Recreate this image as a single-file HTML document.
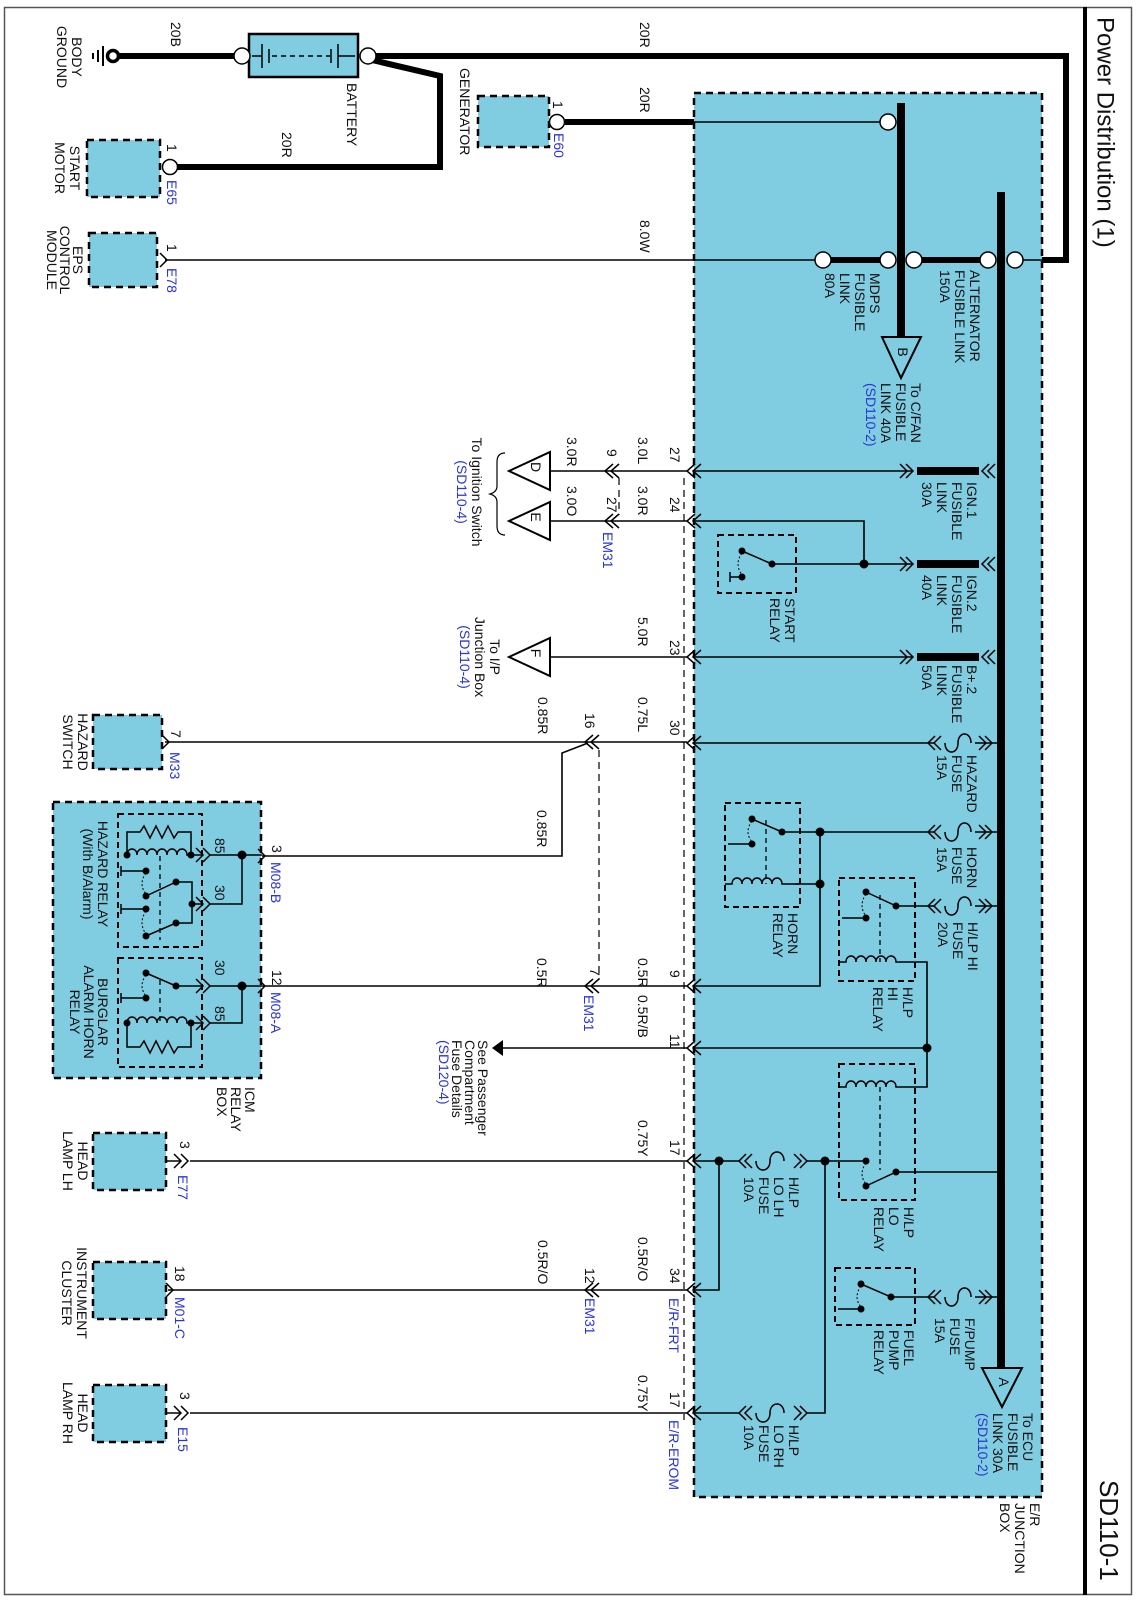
<!DOCTYPE html>
<html><head><meta charset="utf-8"><style>
html,body{margin:0;padding:0;background:#fff}
svg{display:block}
text{font-family:"Liberation Sans",Arial,sans-serif;font-size:14px;fill:#111;dominant-baseline:central}
.b{fill:#2b35d0}
.m{text-anchor:middle}
</style></head><body>
<svg width="1139" height="1600" viewBox="0 0 1139 1600" xmlns="http://www.w3.org/2000/svg">
<rect x="4.5" y="7.5" width="1127" height="1587" fill="none" stroke="#555" stroke-width="1.5"/>
<line x1="1085" y1="7" x2="1085" y2="1595" stroke="#000" stroke-width="4"/>
<text transform="translate(1105,17) rotate(90)" style="font-size:24px">Power Distribution (1)</text>
<text transform="translate(1109,1480) rotate(90)" style="font-size:26px">SD110-1</text>

<rect x="694" y="93" width="348" height="1404" fill="#80cde2" stroke="#000" stroke-width="2.5" stroke-dasharray="7,5"/>
<rect x="53" y="802" width="208" height="276" fill="#80cde2" stroke="#000" stroke-width="2.5" stroke-dasharray="7,5"/>
<g fill="#80cde2" stroke="#000" stroke-width="2.5" stroke-dasharray="7,5">
<rect x="87" y="140" width="73" height="57"/>
<rect x="478" y="96" width="71" height="51"/>
<rect x="89" y="233" width="68" height="54"/>
<rect x="93" y="715" width="69" height="54"/>
<rect x="93" y="1133" width="73" height="57"/>
<rect x="93" y="1262" width="73" height="57"/>
<rect x="93" y="1385" width="73" height="57"/>
</g>
<rect x="249" y="34" width="109" height="43" fill="#80cde2" stroke="#000" stroke-width="2.5"/>
<g stroke="#000" stroke-width="1.5" fill="none">
<line x1="262" y1="44" x2="262" y2="68"/><line x1="269" y1="49" x2="269" y2="63"/>
<line x1="338" y1="44" x2="338" y2="68"/><line x1="331" y1="49" x2="331" y2="63"/>
<line x1="252" y1="56" x2="262" y2="56"/><line x1="338" y1="56" x2="355" y2="56"/>
<line x1="272" y1="56" x2="330" y2="56" stroke-dasharray="5,4"/>
</g>

<g stroke="#000" stroke-width="6" fill="none" stroke-linejoin="miter">
<line x1="118" y1="56" x2="235" y2="56"/>
<polyline points="375,56 1066,56 1066,260 1042,260"/>
<polyline points="372,60 440,76 440,167 177,167"/>
<line x1="565" y1="122" x2="694" y2="122"/>
<line x1="823" y1="260" x2="888" y2="260"/>
<line x1="914" y1="260" x2="988" y2="260"/>
</g>
<g stroke="#000" stroke-width="8" fill="none">
<line x1="901" y1="103" x2="901" y2="337"/>
<line x1="1001" y1="192" x2="1001" y2="1368"/>
<line x1="917" y1="471" x2="979" y2="471"/>
<line x1="917" y1="564" x2="979" y2="564"/>
<line x1="917" y1="657" x2="979" y2="657"/>
</g>
<circle cx="113" cy="56" r="5.5" fill="#fff" stroke="#000" stroke-width="3.5"/>
<g stroke="#000" stroke-width="2"><line x1="103" y1="46" x2="103" y2="66"/><line x1="98" y1="50" x2="98" y2="62"/><line x1="93" y1="53" x2="93" y2="59"/></g>

<g stroke="#000" stroke-width="1.6" fill="none">
<line x1="694" y1="122" x2="880" y2="122"/>
<line x1="165" y1="260" x2="815" y2="260"/>
<line x1="1015" y1="260" x2="1042" y2="260"/>
<line x1="694" y1="471" x2="912" y2="471"/>
<polyline points="694,521 864,521 864,564"/>
<line x1="772" y1="564" x2="912" y2="564"/>
<line x1="694" y1="657" x2="912" y2="657"/>
<line x1="694" y1="743" x2="935" y2="743"/>
<line x1="975" y1="743" x2="1001" y2="743"/>
<line x1="782" y1="832" x2="935" y2="832"/>
<line x1="975" y1="832" x2="1001" y2="832"/>
<polyline points="795,884 820,884"/>
<polyline points="820,832 820,986 694,986"/>
<line x1="896" y1="906" x2="935" y2="906"/>
<line x1="975" y1="906" x2="1001" y2="906"/>
<polyline points="915,962 927,962 927,1087 915,1087"/>
<line x1="694" y1="1048" x2="927" y2="1048"/>
<line x1="896" y1="1172" x2="1001" y2="1172"/>
<polyline points="866,1161 825,1161 825,1413 806,1413"/>
<line x1="825" y1="1161" x2="806" y2="1161"/>
<line x1="740" y1="1161" x2="694" y2="1161"/>
<polyline points="719,1161 719,1290 694,1290"/>
<line x1="740" y1="1413" x2="694" y2="1413"/>
<line x1="891" y1="1297" x2="935" y2="1297"/>
<line x1="975" y1="1297" x2="1001" y2="1297"/>
<line x1="550" y1="471" x2="687" y2="471"/>
<line x1="550" y1="521" x2="687" y2="521"/>
<line x1="550" y1="657" x2="687" y2="657"/>
<line x1="165" y1="742" x2="687" y2="742"/>
<polyline points="588,743 562,753 562,856 262,856"/>
<line x1="262" y1="986" x2="687" y2="986"/>
<line x1="500" y1="1048" x2="687" y2="1048"/>
<line x1="190" y1="1161" x2="687" y2="1161"/>
<line x1="168" y1="1290" x2="687" y2="1290"/>
<line x1="190" y1="1413" x2="687" y2="1413"/>
</g>
<g stroke="#000" stroke-width="1.2" stroke-dasharray="7,5" fill="none">
<line x1="684" y1="478" x2="684" y2="1420"/>
<line x1="619" y1="478" x2="619" y2="515"/>
<line x1="599" y1="750" x2="599" y2="980"/>
</g>
<g fill="#fff" stroke="#000" stroke-width="1.5">
<circle cx="242" cy="56" r="8"/><circle cx="368" cy="56" r="8"/>
<circle cx="170" cy="167" r="7.5"/><circle cx="557" cy="122" r="7.5"/>
<circle cx="888" cy="122" r="8"/>
<circle cx="823" cy="260" r="8"/><circle cx="888" cy="260" r="8"/><circle cx="914" cy="260" r="8"/><circle cx="988" cy="260" r="8"/><circle cx="1015" cy="260" r="8"/>
</g>
<g fill="#80cde2" stroke="#000" stroke-width="2">
<polygon points="882,337 921,337 901,378"/>
<polygon points="982,1368 1022,1368 1002,1407"/>
</g>
<g fill="#fff" stroke="#000" stroke-width="2">
<polygon points="550,452 550,490 509,471"/>
<polygon points="550,502 550,540 509,521"/>
<polygon points="550,638 550,676 509,657"/>
</g>
<polygon points="503,1040 503,1056 492,1048" fill="#000"/>
<text class="m" transform="translate(903,352) rotate(90)">B</text>
<text class="m" transform="translate(1004,1382) rotate(90)">A</text>
<text class="m" transform="translate(536,467) rotate(90)">D</text>
<text class="m" transform="translate(536,517) rotate(90)">E</text>
<text class="m" transform="translate(536,653) rotate(90)">F</text>

<g stroke="#000" stroke-width="1.5" fill="none">
<path d="M701,464L693,471L701,478M695,464L687,471L695,478"/>
<path d="M701,514L693,521L701,528M695,514L687,521L695,528"/>
<path d="M701,650L693,657L701,664M695,650L687,657L695,664"/>
<path d="M701,736L693,743L701,750M695,736L687,743L695,750"/>
<path d="M701,979L693,986L701,993M695,979L687,986L695,993"/>
<path d="M701,1041L693,1048L701,1055M695,1041L687,1048L695,1055"/>
<path d="M701,1154L693,1161L701,1168M695,1154L687,1161L695,1168"/>
<path d="M701,1283L693,1290L701,1297M695,1283L687,1290L695,1297"/>
<path d="M701,1406L693,1413L701,1420M695,1406L687,1413L695,1420"/>
<path d="M619,464L611,471L619,478M613,464L605,471L613,478"/>
<path d="M619,514L611,521L619,528M613,514L605,521L613,528"/>
<path d="M599,735L591,742L599,749M593,735L585,742L593,749"/>
<path d="M599,979L591,986L599,993M593,979L585,986L593,993"/>
<path d="M599,1283L591,1290L599,1297M593,1283L585,1290L593,1297"/>
<path d="M900,464L907,471L900,478M906,464L913,471L906,478"/>
<path d="M900,557L907,564L900,571M906,557L913,564L906,571"/>
<path d="M900,650L907,657L900,664M906,650L913,657L906,664"/>
<path d="M989,464L982,471L989,478M995,464L988,471L995,478"/>
<path d="M989,557L982,564L989,571M995,557L988,564L995,571"/>
<path d="M989,650L982,657L989,664M995,650L988,657L995,664"/>
<path d="M935,736L928,743L935,750M941,736L934,743L941,750M985,736L992,743L985,750M979,736L986,743L979,750"/>
<path d="M935,825L928,832L935,839M941,825L934,832L941,839M985,825L992,832L985,839M979,825L986,832L979,839"/>
<path d="M935,899L928,906L935,913M941,899L934,906L941,913M985,899L992,906L985,913M979,899L986,906L979,913"/>
<path d="M935,1290L928,1297L935,1304M941,1290L934,1297L941,1304M985,1290L992,1297L985,1304M979,1290L986,1297L979,1304"/>
<path d="M945,743C945,755 958,755 958,743C958,731 971,731 971,743"/>
<path d="M945,832C945,844 958,844 958,832C958,820 971,820 971,832"/>
<path d="M945,906C945,918 958,918 958,906C958,894 971,894 971,906"/>
<path d="M945,1297C945,1309 958,1309 958,1297C958,1285 971,1285 971,1297"/>
<path d="M746,1154L739,1161L746,1168M752,1154L745,1161L752,1168M800,1154L807,1161L800,1168M794,1154L801,1161L794,1168"/>
<path d="M756,1161C756,1173 770,1173 770,1161C770,1149 784,1149 784,1161"/>
<path d="M746,1406L739,1413L746,1420M752,1406L745,1413L752,1420M800,1406L807,1413L800,1420M794,1406L801,1413L794,1420"/>
<path d="M756,1413C756,1425 770,1425 770,1413C770,1401 784,1401 784,1413"/>
<path d="M160,253L167,260L160,267"/>
<path d="M162,735L169,742L162,749"/>
<path d="M174,1154L181,1161L174,1168M181,1154L188,1161L181,1168"/>
<path d="M166,1283L173,1290L166,1297"/>
<path d="M174,1406L181,1413L174,1420M181,1406L188,1413L181,1420"/>
<path d="M258,849L265,856L258,863M258,979L265,986L258,993"/>
<path d="M196,848L203,855L196,862M203,848L210,855L203,862"/>
<path d="M196,897L203,904L196,911M203,897L210,904L203,911"/>
<path d="M196,979L203,986L196,993M203,979L210,986L203,993"/>
<path d="M196,1016L203,1023L196,1030M203,1016L210,1023L203,1030"/>
<line x1="166" y1="1161" x2="181" y2="1161"/><line x1="166" y1="1413" x2="181" y2="1413"/>
</g>

<g fill="none" stroke="#000" stroke-width="2" stroke-dasharray="6,4">
<rect x="718" y="535" width="78" height="58"/>
<rect x="725" y="803" width="75" height="104"/>
<rect x="839" y="878" width="76" height="103"/>
<rect x="839" y="1064" width="76" height="136"/>
<rect x="835" y="1268" width="80" height="57"/>
<rect x="118" y="814" width="84" height="133"/>
<rect x="118" y="958" width="84" height="109"/>
</g>
<g fill="none" stroke="#000" stroke-width="1.3" stroke-dasharray="5,4">
<line x1="766" y1="820" x2="766" y2="884"/>
<line x1="880" y1="895" x2="880" y2="962"/>
<line x1="880" y1="1087" x2="880" y2="1170"/>
<line x1="160" y1="856" x2="160" y2="940"/>
<line x1="160" y1="980" x2="160" y2="1023"/>
</g>
<g fill="none" stroke="#000" stroke-width="1.5">
<path d="M772,564L742,551M730,577L742,577M730,572L730,582"/>
<path d="M782,832L752,819M728,844L752,844"/>
<path d="M725,884L732,884C732,876 742,876 742,884C742,876 752,876 752,884C752,876 762,876 762,884C762,876 772,876 772,884C772,876 782,876 782,884L800,884"/>
<path d="M896,906L866,892M842,918L866,918"/>
<path d="M839,962L846,962C846,954 856,954 856,962C856,954 866,954 866,962C866,954 876,954 876,962C876,954 886,954 886,962C886,954 896,954 896,962L915,962"/>
<path d="M839,1087L846,1087C846,1079 856,1079 856,1087C856,1079 866,1079 866,1087C866,1079 876,1079 876,1087C876,1079 886,1079 886,1087C886,1079 896,1079 896,1087L915,1087"/>
<path d="M896,1172L866,1186"/>
<path d="M891,1297L861,1284M838,1309L861,1309"/>
<path d="M127,855L127,832L140,832L144,826L150,838L156,826L162,838L168,826L174,838L178,832L191,832L191,855"/>
<path d="M127,855C127,847 137,847 137,855C137,847 147,847 147,855C147,847 157,847 157,855C157,847 167,847 167,855C167,847 177,847 177,855C177,847 187,847 187,855L191,855"/>
<path d="M191,855L203,855M210,855L262,855"/>
<path d="M121,871L146,871M121,866L121,876M121,909L146,909M121,904L121,914"/>
<path d="M176,882L146,896M176,923L146,936M176,882L192,882L192,923L176,923M192,904L203,904M210,904L242,904L242,855"/>
<path d="M176,986L146,973M121,998L146,998M121,993L121,1003M176,986L203,986M210,986L262,986"/>
<path d="M127,1023C127,1015 137,1015 137,1023C137,1015 147,1015 147,1023C147,1015 157,1015 157,1023C157,1015 167,1015 167,1023C167,1015 177,1015 177,1023C177,1015 187,1015 187,1023L191,1023"/>
<path d="M127,1023L127,1047L140,1047L144,1041L150,1053L156,1041L162,1053L168,1041L174,1053L178,1047L191,1047L191,1023M191,1023L203,1023M210,1023L242,1023L242,986"/>
</g>
<g fill="none" stroke="#000" stroke-width="1" stroke-dasharray="2,2">
<path d="M742,553Q734,564 742,575"/><path d="M752,821Q744,832 752,842"/><path d="M866,894Q858,906 866,916"/>
<path d="M866,1163Q858,1174 866,1184"/><path d="M861,1286Q853,1297 861,1307"/>
<path d="M146,873Q138,884 146,894"/><path d="M146,911Q138,923 146,934"/><path d="M146,975Q138,986 146,996"/>
</g>
<g fill="#000">
<circle cx="742" cy="551" r="3.5"/><circle cx="742" cy="577" r="3.5"/><circle cx="772" cy="564" r="3.5"/><circle cx="864" cy="564" r="4.5"/>
<circle cx="752" cy="819" r="3.5"/><circle cx="752" cy="844" r="3.5"/><circle cx="782" cy="832" r="3.5"/><circle cx="820" cy="832" r="4.5"/><circle cx="820" cy="884" r="4.5"/>
<circle cx="866" cy="892" r="3.5"/><circle cx="866" cy="918" r="3.5"/><circle cx="896" cy="906" r="3.5"/><circle cx="927" cy="1048" r="4.5"/>
<circle cx="866" cy="1161" r="3.5"/><circle cx="866" cy="1186" r="3.5"/><circle cx="896" cy="1172" r="3.5"/><circle cx="825" cy="1161" r="4.5"/><circle cx="719" cy="1161" r="4.5"/>
<circle cx="861" cy="1284" r="3.5"/><circle cx="861" cy="1309" r="3.5"/><circle cx="891" cy="1297" r="3.5"/>
<circle cx="127" cy="855" r="3.5"/><circle cx="191" cy="855" r="3.5"/><circle cx="146" cy="871" r="3.5"/><circle cx="176" cy="882" r="3.5"/><circle cx="146" cy="896" r="3.5"/><circle cx="146" cy="909" r="3.5"/><circle cx="176" cy="923" r="3.5"/><circle cx="146" cy="936" r="3.5"/><circle cx="192" cy="904" r="3.5"/><circle cx="242" cy="855" r="4.5"/>
<circle cx="146" cy="973" r="3.5"/><circle cx="176" cy="986" r="3.5"/><circle cx="146" cy="998" r="3.5"/><circle cx="127" cy="1023" r="3.5"/><circle cx="191" cy="1023" r="3.5"/><circle cx="242" cy="986" r="4.5"/>
</g>
<path d="M505,453Q497,453 497,462L497,486Q497,492 490,494Q497,496 497,502L497,526Q497,535 505,535" fill="none" stroke="#000" stroke-width="1.2"/>

<text class="m" transform="translate(77,57) rotate(90)">BODY<tspan x="0" dy="15">GROUND</tspan></text>
<text transform="translate(176,22) rotate(90)">20B</text>
<text transform="translate(352,83) rotate(90)">BATTERY</text>
<text transform="translate(287,132) rotate(90)">20R</text>
<text class="m" transform="translate(75,168) rotate(90)">START<tspan x="0" dy="15">MOTOR</tspan></text>
<text transform="translate(172,144) rotate(90)">1</text>
<text class="b" transform="translate(172,180) rotate(90)">E65</text>
<text transform="translate(465,68) rotate(90)">GENERATOR</text>
<text transform="translate(558,101) rotate(90)">1</text>
<text class="b" transform="translate(559,133) rotate(90)">E60</text>
<text class="m" transform="translate(78,260) rotate(90)">EPS<tspan x="0" dy="13">CONTROL</tspan><tspan x="0" dy="13">MODULE</tspan></text>
<text transform="translate(172,244) rotate(90)">1</text>
<text class="b" transform="translate(172,268) rotate(90)">E78</text>
<text transform="translate(645,22) rotate(90)">20R</text>
<text transform="translate(645,87) rotate(90)">20R</text>
<text transform="translate(645,220) rotate(90)">8.0W</text>
<text transform="translate(875,273) rotate(90)">MDPS<tspan x="0" dy="15">FUSIBLE</tspan><tspan x="0" dy="15">LINK</tspan><tspan x="0" dy="15">80A</tspan></text>
<text transform="translate(975,270) rotate(90)">ALTERNATOR<tspan x="0" dy="15">FUSIBLE LINK</tspan><tspan x="0" dy="15">150A</tspan></text>
<text transform="translate(916,383) rotate(90)">To C/FAN<tspan x="0" dy="15">FUSIBLE</tspan><tspan x="0" dy="15">LINK 40A</tspan><tspan x="0" dy="15" class="b">(SD110-2)</tspan></text>
<text transform="translate(972,482) rotate(90)">IGN.1<tspan x="0" dy="15">FUSIBLE</tspan><tspan x="0" dy="15">LINK</tspan><tspan x="0" dy="15">30A</tspan></text>
<text transform="translate(972,575) rotate(90)">IGN.2<tspan x="0" dy="15">FUSIBLE</tspan><tspan x="0" dy="15">LINK</tspan><tspan x="0" dy="15">40A</tspan></text>
<text transform="translate(972,665) rotate(90)">B+.2<tspan x="0" dy="15">FUSIBLE</tspan><tspan x="0" dy="15">LINK</tspan><tspan x="0" dy="15">50A</tspan></text>
<text transform="translate(790,598) rotate(90)">START<tspan x="0" dy="15">RELAY</tspan></text>
<text transform="translate(972,755) rotate(90)">HAZARD<tspan x="0" dy="15">FUSE</tspan><tspan x="0" dy="15">15A</tspan></text>
<text transform="translate(972,847) rotate(90)">HORN<tspan x="0" dy="15">FUSE</tspan><tspan x="0" dy="15">15A</tspan></text>
<text transform="translate(973,922) rotate(90)">H/LP HI<tspan x="0" dy="15">FUSE</tspan><tspan x="0" dy="15">20A</tspan></text>
<text transform="translate(793,913) rotate(90)">HORN<tspan x="0" dy="15">RELAY</tspan></text>
<text transform="translate(908,987) rotate(90)">H/LP<tspan x="0" dy="15">HI</tspan><tspan x="0" dy="15">RELAY</tspan></text>
<text transform="translate(909,1207) rotate(90)">H/LP<tspan x="0" dy="15">LO</tspan><tspan x="0" dy="15">RELAY</tspan></text>
<text transform="translate(794,1177) rotate(90)">H/LP<tspan x="0" dy="15">LO LH</tspan><tspan x="0" dy="15">FUSE</tspan><tspan x="0" dy="15">10A</tspan></text>
<text transform="translate(970,1318) rotate(90)">F/PUMP<tspan x="0" dy="15">FUSE</tspan><tspan x="0" dy="15">15A</tspan></text>
<text transform="translate(909,1330) rotate(90)">FUEL<tspan x="0" dy="15">PUMP</tspan><tspan x="0" dy="15">RELAY</tspan></text>
<text transform="translate(794,1425) rotate(90)">H/LP<tspan x="0" dy="15">LO RH</tspan><tspan x="0" dy="15">FUSE</tspan><tspan x="0" dy="15">10A</tspan></text>
<text transform="translate(1028,1413) rotate(90)">To ECU<tspan x="0" dy="15">FUSIBLE</tspan><tspan x="0" dy="15">LINK 30A</tspan><tspan x="0" dy="15" class="b">(SD110-2)</tspan></text>
<text transform="translate(1035,1503) rotate(90)">E/R<tspan x="0" dy="15">JUNCTION</tspan><tspan x="0" dy="15">BOX</tspan></text>

<text transform="translate(675,447) rotate(90)">27</text>
<text transform="translate(643,437) rotate(90)">3.0L</text>
<text transform="translate(612,449) rotate(90)">9</text>
<text transform="translate(572,437) rotate(90)">3.0R</text>
<text transform="translate(675,497) rotate(90)">24</text>
<text transform="translate(643,486) rotate(90)">3.0R</text>
<text transform="translate(612,497) rotate(90)">27</text>
<text transform="translate(572,486) rotate(90)">3.0O</text>
<text class="b" transform="translate(608,532) rotate(90)">EM31</text>
<text class="m" transform="translate(477,492) rotate(90)">To Ignition Switch<tspan x="0" dy="15" class="b">(SD110-4)</tspan></text>
<text transform="translate(675,640) rotate(90)">23</text>
<text transform="translate(643,617) rotate(90)">5.0R</text>
<text class="m" transform="translate(495,657) rotate(90)">To I/P<tspan x="0" dy="15">Junction Box</tspan><tspan x="0" dy="15" class="b">(SD110-4)</tspan></text>
<text transform="translate(675,720) rotate(90)">30</text>
<text transform="translate(643,697) rotate(90)">0.75L</text>
<text transform="translate(590,713) rotate(90)">16</text>
<text transform="translate(543,697) rotate(90)">0.85R</text>
<text class="m" transform="translate(83,742) rotate(90)">HAZARD<tspan x="0" dy="15">SWITCH</tspan></text>
<text transform="translate(176,730) rotate(90)">7</text>
<text class="b" transform="translate(175,752) rotate(90)">M33</text>
<text transform="translate(542,810) rotate(90)">0.85R</text>
<text transform="translate(277,845) rotate(90)">3</text>
<text class="b" transform="translate(276,862) rotate(90)">M08-B</text>
<text transform="translate(220,838) rotate(90)">85</text>
<text transform="translate(220,885) rotate(90)">30</text>
<text transform="translate(220,960) rotate(90)">30</text>
<text transform="translate(220,1006) rotate(90)">85</text>
<text class="m" transform="translate(103,874) rotate(90)">HAZARD RELAY<tspan x="0" dy="15">(With B/Alarm)</tspan></text>
<text class="m" transform="translate(103,1012) rotate(90)">BURGLAR<tspan x="0" dy="14">ALARM HORN</tspan><tspan x="0" dy="14">RELAY</tspan></text>
<text transform="translate(277,970) rotate(90)">12</text>
<text class="b" transform="translate(276,992) rotate(90)">M08-A</text>
<text transform="translate(250,1087) rotate(90)">ICM<tspan x="0" dy="14">RELAY</tspan><tspan x="0" dy="14">BOX</tspan></text>
<text transform="translate(542,958) rotate(90)">0.5R</text>
<text transform="translate(595,968) rotate(90)">7</text>
<text class="b" transform="translate(589,995) rotate(90)">EM31</text>
<text transform="translate(643,958) rotate(90)">0.5R</text>
<text transform="translate(675,970) rotate(90)">9</text>
<text transform="translate(643,995) rotate(90)">0.5R/B</text>
<text transform="translate(675,1034) rotate(90)">11</text>
<text transform="translate(483,1040) rotate(90)">See Passenger<tspan x="0" dy="13">Compartment</tspan><tspan x="0" dy="13">Fuse Details</tspan><tspan x="0" dy="13" class="b">(SD120-4)</tspan></text>
<text transform="translate(675,1140) rotate(90)">17</text>
<text transform="translate(643,1120) rotate(90)">0.75Y</text>
<text transform="translate(185,1141) rotate(90)">3</text>
<text class="b" transform="translate(183,1175) rotate(90)">E77</text>
<text class="m" transform="translate(83,1161) rotate(90)">HEAD<tspan x="0" dy="15">LAMP LH</tspan></text>
<text transform="translate(675,1268) rotate(90)">34</text>
<text transform="translate(643,1237) rotate(90)">0.5R/O</text>
<text class="b" transform="translate(674,1298) rotate(90)">E/R-FRT</text>
<text transform="translate(590,1268) rotate(90)">12</text>
<text class="b" transform="translate(590,1298) rotate(90)">EM31</text>
<text transform="translate(543,1240) rotate(90)">0.5R/O</text>
<text transform="translate(180,1266) rotate(90)">18</text>
<text class="b" transform="translate(180,1297) rotate(90)">M01-C</text>
<text class="m" transform="translate(82,1293) rotate(90)">INSTRUMENT<tspan x="0" dy="15">CLUSTER</tspan></text>
<text transform="translate(675,1392) rotate(90)">17</text>
<text transform="translate(643,1375) rotate(90)">0.75Y</text>
<text class="b" transform="translate(674,1420) rotate(90)">E/R-EROM</text>
<text transform="translate(185,1392) rotate(90)">3</text>
<text class="b" transform="translate(183,1427) rotate(90)">E15</text>
<text class="m" transform="translate(83,1413) rotate(90)">HEAD<tspan x="0" dy="15">LAMP RH</tspan></text>
</svg>
</body></html>
